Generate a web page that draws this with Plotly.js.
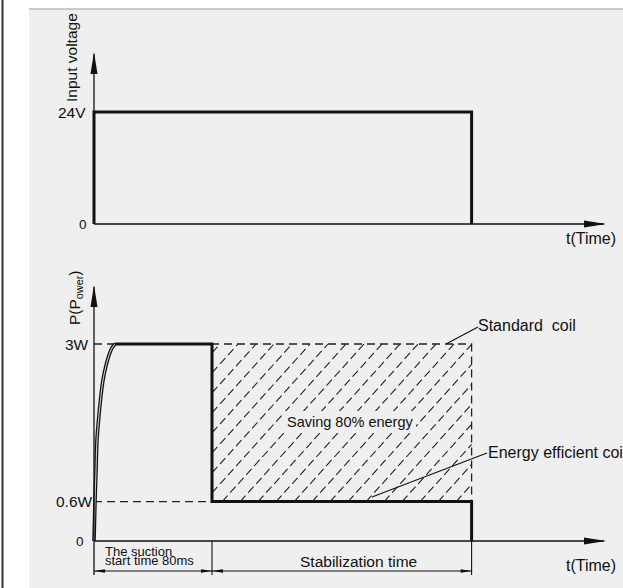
<!DOCTYPE html>
<html>
<head>
<meta charset="utf-8">
<script src="https://cdn.plot.ly/plotly-3.0.1.min.js"></script>
<style>html,body{margin:0;padding:0;background:#fff;}#chart{width:623px;height:588px;}</style>
</head>
<body>
<div id="chart"></div>
<script>
// ---------------- data ----------------
const voltageTime = [0, 0, 256, 256];          // ms
const voltageValue = [0, 24, 24, 0];           // V
const riseTime = [0, 0.68, 1.36, 2.03, 3.39, 4.75, 6.10, 8.14, 10.17, 12.2, 14.24]; // ms
const risePower = [0, 0.62, 1.08, 1.54, 1.92, 2.22, 2.45, 2.67, 2.83, 2.94, 3.0];  // W
const holdTime = [14.24, 80, 80, 256, 256];
const holdPower = [3.0, 3.0, 0.6, 0.6, 0];
const standardPower = 3;      // W
const efficientPower = 0.6;   // W
const suctionTime = 80;       // ms
const offTime = 256;          // ms
const voltTickLabels = ['0', '24V'];
const powerTickLabels = ['0', '0.6W', '3W'];

// ---------------- scales ----------------
const W = 623, H = 588;
const X0PX = 94, PX_PER_MS = 1.475;
const Y0V_PX = 224, PX_PER_V = 112 / 24;
const Y0P_PX = 541, PX_PER_W = 197 / 3;
const xRange = [(0 - X0PX) / PX_PER_MS, (W - X0PX) / PX_PER_MS];
const yVRange = [(Y0V_PX - H) / PX_PER_V, Y0V_PX / PX_PER_V];
const yPRange = [(Y0P_PX - H) / PX_PER_W, Y0P_PX / PX_PER_W];
const tx = px => (px - X0PX) / PX_PER_MS;
const pw = py => (Y0P_PX - py) / PX_PER_W;
const pv = py => (Y0V_PX - py) / PX_PER_V;

const xEnd = tx(606), vTop = pv(52), pTop = pw(285);
const dimY = pw(571), extY = pw(575);

const INK = '#111';
const PANEL = '#eeefee';
const FONT = 'Liberation Sans, Arial, Helvetica, sans-serif';

// hatch lines (decoration)
const hx = [], hy = [];
{
  const xl = X0PX + suctionTime * PX_PER_MS, xr = X0PX + offTime * PX_PER_MS;
  const yb = Y0P_PX - efficientPower * PX_PER_W, yt = Y0P_PX - standardPower * PX_PER_W;
  const h = yb - yt;
  const k = 0.9; // horizontal run per vertical px (slightly steeper than 45deg)
  for (let c = xl - h * k + 8; c < xr; c += 18) {
    let x1 = c, y1 = yb, x2 = c + h * k, y2 = yt;
    if (x1 < xl) { y1 = yb - (xl - c) / k; x1 = xl; }
    if (x2 > xr) { y2 = yb - (xr - c) / k; x2 = xr; }
    if (x2 - x1 < 2) continue;
    hx.push(tx(x1), tx(x2), null); hy.push(pw(y1), pw(y2), null);
  }
}

const traces = [
  {x: hx, y: hy, xaxis: 'x', yaxis: 'y2', mode: 'lines', line: {color: '#222', width: 1.1, dash: '8px,4px'}, hoverinfo: 'skip', showlegend: false},
  // standard coil dashed outline
  {x: [0, offTime, offTime], y: [standardPower, standardPower, efficientPower], xaxis: 'x', yaxis: 'y2', mode: 'lines', line: {color: '#222', width: 1.3, dash: '8px,5px'}, hoverinfo: 'skip', showlegend: false},
  {x: [0, suctionTime], y: [efficientPower, efficientPower], xaxis: 'x', yaxis: 'y2', mode: 'lines', line: {color: '#222', width: 1.3, dash: '8px,5px'}, hoverinfo: 'skip', showlegend: false},
  // voltage
  {x: voltageTime, y: voltageValue, xaxis: 'x', yaxis: 'y', mode: 'lines', line: {color: INK, width: 3}, hoverinfo: 'skip', showlegend: false},
  // power
  {x: riseTime, y: risePower, xaxis: 'x', yaxis: 'y2', mode: 'lines', line: {color: INK, width: 3.6, shape: 'spline'}, hoverinfo: 'skip', showlegend: false},
  {x: riseTime, y: risePower, xaxis: 'x', yaxis: 'y2', mode: 'lines', line: {color: '#c8c8c8', width: 1.1, shape: 'spline'}, hoverinfo: 'skip', showlegend: false},
  {x: holdTime, y: holdPower, xaxis: 'x', yaxis: 'y2', mode: 'lines', line: {color: INK, width: 3}, hoverinfo: 'skip', showlegend: false}
];

const shapes = [
  {type: 'rect', xref: 'paper', yref: 'paper', x0: 29 / W, x1: 1, y0: 0, y1: 1 - 9 / H, fillcolor: PANEL, line: {width: 0}, layer: 'below'},
  {type: 'line', xref: 'paper', yref: 'paper', x0: 29 / W, x1: 1, y0: 1 - 9 / H, y1: 1 - 9 / H, line: {color: '#9a9a9a', width: 1.2}, layer: 'below'},
  {type: 'line', xref: 'paper', yref: 'paper', x0: 2.5 / W, x1: 2.5 / W, y0: 0, y1: 1, line: {color: '#333', width: 2}, layer: 'below'},
  // axes
  {type: 'line', xref: 'x', yref: 'y', x0: 0, x1: xEnd - 2 / PX_PER_MS, y0: 0, y1: 0, line: {color: INK, width: 1.3}},
  {type: 'line', xref: 'x', yref: 'y', x0: 0, x1: 0, y0: 0, y1: vTop - 2 / PX_PER_V, line: {color: INK, width: 1.3}},
  {type: 'line', xref: 'x', yref: 'y2', x0: 0, x1: xEnd - 2 / PX_PER_MS, y0: 0, y1: 0, line: {color: INK, width: 1.3}},
  {type: 'line', xref: 'x', yref: 'y2', x0: 0, x1: 0, y0: extY, y1: pTop - 2 / PX_PER_W, line: {color: INK, width: 1.3}},
  {type: 'path', xref: 'x', yref: 'y', xsizemode: 'pixel', ysizemode: 'pixel', xanchor: xEnd, yanchor: 0, path: 'M0,0 L-22,3.5 L-22,-3.5 Z', fillcolor: INK, line: {width: 0}},
  {type: 'path', xref: 'x', yref: 'y', xsizemode: 'pixel', ysizemode: 'pixel', xanchor: 0, yanchor: vTop, path: 'M0,0 L-3.5,-22 L3.5,-22 Z', fillcolor: INK, line: {width: 0}},
  {type: 'path', xref: 'x', yref: 'y2', xsizemode: 'pixel', ysizemode: 'pixel', xanchor: xEnd, yanchor: 0, path: 'M0,0 L-22,3.5 L-22,-3.5 Z', fillcolor: INK, line: {width: 0}},
  {type: 'path', xref: 'x', yref: 'y2', xsizemode: 'pixel', ysizemode: 'pixel', xanchor: 0, yanchor: pTop, path: 'M0,0 L-3.5,-22 L3.5,-22 Z', fillcolor: INK, line: {width: 0}},
  // dimension extension lines
  {type: 'line', xref: 'x', yref: 'y2', x0: suctionTime, x1: suctionTime, y0: 0, y1: extY, line: {color: INK, width: 1.1}},
  {type: 'line', xref: 'x', yref: 'y2', x0: offTime, x1: offTime, y0: 0, y1: extY, line: {color: INK, width: 1.1}},
  {type: 'line', xref: 'x', yref: 'y2', x0: 0, x1: offTime, y0: dimY, y1: dimY, line: {color: INK, width: 1.1}},
  {type: 'path', xref: 'x', yref: 'y2', xsizemode: 'pixel', ysizemode: 'pixel', xanchor: 0, yanchor: dimY, path: 'M0,0 L11,1.8 L11,-1.8 Z', fillcolor: INK, line: {width: 0}},
  {type: 'path', xref: 'x', yref: 'y2', xsizemode: 'pixel', ysizemode: 'pixel', xanchor: suctionTime, yanchor: dimY, path: 'M0,0 L-11,1.8 L-11,-1.8 Z', fillcolor: INK, line: {width: 0}},
  {type: 'path', xref: 'x', yref: 'y2', xsizemode: 'pixel', ysizemode: 'pixel', xanchor: suctionTime, yanchor: dimY, path: 'M0,0 L11,1.8 L11,-1.8 Z', fillcolor: INK, line: {width: 0}},
  {type: 'path', xref: 'x', yref: 'y2', xsizemode: 'pixel', ysizemode: 'pixel', xanchor: offTime, yanchor: dimY, path: 'M0,0 L-11,1.8 L-11,-1.8 Z', fillcolor: INK, line: {width: 0}},
  // leader lines
  {type: 'line', xref: 'x', yref: 'y2', x0: tx(446), x1: tx(478), y0: standardPower, y1: pw(327), line: {color: INK, width: 1.1}},
  {type: 'line', xref: 'x', yref: 'y2', x0: tx(372), x1: tx(487), y0: pw(497), y1: pw(453), line: {color: INK, width: 1.1}}
];

const P = (px, py) => ({xref: 'paper', yref: 'paper', x: px / W, y: 1 - py / H});
const base = {showarrow: false, borderpad: 0, borderwidth: 0, font: {family: FONT, size: 15.5, color: INK}};
const ann = (o) => Object.assign({}, base, o);
const annotations = [
  ann(Object.assign(P(86, 112), {text: voltTickLabels[1], xanchor: 'right', yanchor: 'middle'})),
  ann(Object.assign(P(87, 224), {text: voltTickLabels[0], xanchor: 'right', yanchor: 'middle', font: {family: FONT, size: 13.5, color: INK}})),
  ann(Object.assign(P(89, 344), {text: powerTickLabels[2], xanchor: 'right', yanchor: 'middle'})),
  ann(Object.assign(P(93, 502), {text: powerTickLabels[1], xanchor: 'right', yanchor: 'middle'})),
  ann(Object.assign(P(84, 541), {text: powerTickLabels[0], xanchor: 'right', yanchor: 'middle', font: {family: FONT, size: 13.5, color: INK}})),
  ann(Object.assign(P(71, 58), {text: 'Input voltage', textangle: -90, xanchor: 'center', yanchor: 'middle'})),
  ann(Object.assign(P(75, 298), {text: 'P(P<sub>ower</sub>)', textangle: -90, xanchor: 'center', yanchor: 'middle'})),
  ann(Object.assign(P(566, 239), {text: 't(Time)', xanchor: 'left', yanchor: 'middle', font: {family: FONT, size: 16, color: INK}})),
  ann(Object.assign(P(566, 565), {text: 't(Time)', xanchor: 'left', yanchor: 'middle', font: {family: FONT, size: 16, color: INK}})),
  ann(Object.assign(P(478, 326), {text: 'Standard&nbsp; coil', xanchor: 'left', yanchor: 'middle', font: {family: FONT, size: 16, color: INK}})),
  ann(Object.assign(P(488, 452), {text: 'Energy efficient coil', xanchor: 'left', yanchor: 'middle', font: {family: FONT, size: 16, color: INK}})),
  ann(Object.assign(P(350, 422), {text: 'Saving 80% energy', xanchor: 'center', yanchor: 'middle', bgcolor: PANEL, borderpad: 3, font: {family: FONT, size: 14.5, color: INK}})),
  ann(Object.assign(P(105, 551), {text: 'The suction', xanchor: 'left', yanchor: 'middle', font: {family: FONT, size: 13, color: INK}})),
  ann(Object.assign(P(105, 560), {text: 'start time 80ms', xanchor: 'left', yanchor: 'middle', font: {family: FONT, size: 13, color: INK}})),
  ann(Object.assign(P(358, 561), {text: 'Stabilization time', xanchor: 'center', yanchor: 'middle'}))
];

const layout = {
  width: W, height: H,
  margin: {l: 0, r: 0, t: 0, b: 0, pad: 0},
  paper_bgcolor: '#ffffff', plot_bgcolor: 'rgba(0,0,0,0)',
  showlegend: false,
  xaxis: {domain: [0, 1], range: xRange, visible: false, fixedrange: true},
  yaxis: {domain: [0, 1], range: yVRange, visible: false, fixedrange: true},
  yaxis2: {domain: [0, 1], range: yPRange, visible: false, overlaying: 'y', fixedrange: true},
  shapes: shapes,
  annotations: annotations
};

Plotly.newPlot('chart', traces, layout, {displayModeBar: false, staticPlot: true});
</script>
</body>
</html>
